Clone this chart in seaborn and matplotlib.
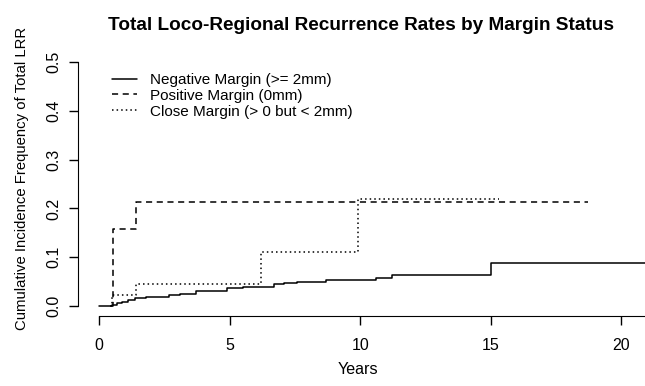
import pandas as pd
import matplotlib
matplotlib.use("Agg")
import matplotlib.pyplot as plt
import seaborn as sns

# cumulative incidence step points
neg_years = [0, 0.5, 0.7, 0.9, 1.1, 1.4, 1.8, 2.3, 2.7, 3.1, 3.7, 4.9, 5.5, 6.2, 6.7, 7.1, 7.6, 8.7, 10.6, 11.2, 15.0, 20.9]
neg_rate = [0, 0.003, 0.006, 0.009, 0.012, 0.016, 0.018, 0.019, 0.022, 0.026, 0.031, 0.038, 0.039, 0.040, 0.045, 0.047, 0.050, 0.053, 0.057, 0.063, 0.0875, 0.0875]
pos_years = [0.45, 0.55, 1.41, 18.7]
pos_rate = [0.0, 0.158, 0.214, 0.214]
close_years = [0.42, 0.5, 1.41, 6.2, 9.93, 15.3]
close_rate = [0.0, 0.022, 0.046, 0.11, 0.219, 0.219]

labels = ["Negative Margin (>= 2mm)", "Positive Margin (0mm)", "Close Margin (> 0 but < 2mm)"]

df = pd.concat([
    pd.DataFrame({"years": neg_years, "rate": neg_rate, "group": labels[0]}),
    pd.DataFrame({"years": pos_years, "rate": pos_rate, "group": labels[1]}),
    pd.DataFrame({"years": close_years, "rate": close_rate, "group": labels[2]}),
])

sns.set_style("ticks")
plt.rcParams['font.family'] = ['Liberation Sans', 'DejaVu Sans']
plt.rcParams['text.color'] = 'black'

W, H = 645, 386
fig = plt.figure(figsize=(6.45, 3.86), dpi=100)
ax = fig.add_axes([78 / W, 1 - 316 / H, 567 / W, 264 / H])

styles = {labels[0]: "-", labels[1]: (0, (4, 3)), labels[2]: (0, (1, 2))}
for lab in labels:
    sub = df[df["group"] == lab]
    sns.lineplot(data=sub, x="years", y="rate", ax=ax, color="black", lw=1.1,
                 drawstyle="steps-post", estimator=None, sort=False,
                 linestyle=styles[lab], label=lab)

ax.set_xlim(-0.8, 20.9)
ax.set_ylim(-0.02, 0.52)
ax.set_xticks([0, 5, 10, 15, 20])
ax.set_yticks([0, 0.1, 0.2, 0.3, 0.4, 0.5])
ax.set_yticklabels(["0.0", "0.1", "0.2", "0.3", "0.4", "0.5"], rotation=90, va="center")
ax.spines["top"].set_visible(False)
ax.spines["right"].set_visible(False)
ax.spines["left"].set_bounds(0, 0.5)
ax.spines["bottom"].set_bounds(0, 20.9)
ax.tick_params(direction="out", length=6.2, width=1, color="black", labelcolor="black",
               labelsize=11.5)
ax.tick_params(axis="x", pad=10)
ax.tick_params(axis="y", pad=6)
for s in ax.spines.values():
    s.set_color("black")
ax.set_xlabel("")
ax.set_ylabel("")

leg = ax.legend(loc="upper left", bbox_to_anchor=(112 / W, 1 - 73 / H),
                bbox_transform=fig.transFigure, frameon=False, borderpad=0,
                borderaxespad=0, handlelength=1.63, handletextpad=0.85,
                labelspacing=0.12, fontsize=11)

fig.text(361 / W, 1 - 30 / H, "Total Loco-Regional Recurrence Rates by Margin Status",
         ha="center", va="baseline", fontweight="bold", fontsize=13.7)
fig.text(358 / W, 1 - 370 / H, "Years", ha="center", va="center", fontsize=11.6)
fig.text(22 / W, 1 - 178 / H, "Cumulative Incidence Frequency of Total LRR",
         ha="center", va="center", rotation=90, fontsize=10.7)

fig.savefig("out.png", dpi=100)
